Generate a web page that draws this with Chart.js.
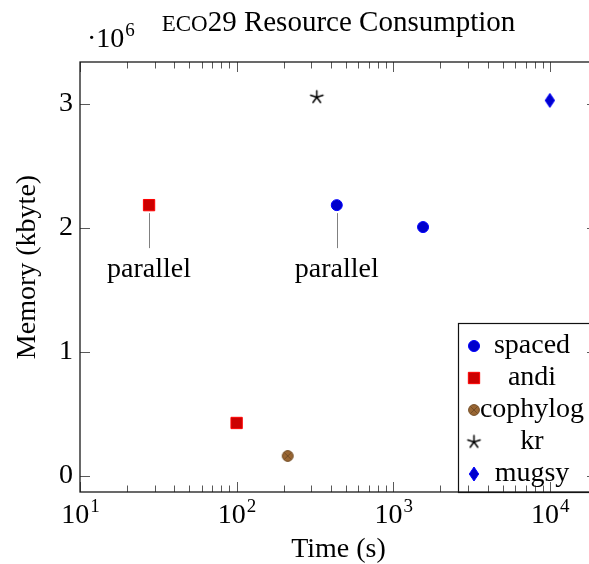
<!DOCTYPE html>
<html>
<head>
<meta charset="utf-8">
<script src="https://cdn.jsdelivr.net/npm/chart.js@4.4.0/dist/chart.umd.min.js"></script>
<style>
  html, body { margin: 0; padding: 0; background: #fff; overflow: hidden; }
</style>
</head>
<body>
<canvas id="eco29Chart" width="620" height="564"></canvas>
<script>
// eco29: wall time (s) against peak memory (kbyte) for each tool
const toolNames = ['spaced', 'andi', 'cophylog', 'kr', 'mugsy'];
const spacedPoints = [{ x: 436, y: 2185000 }, { x: 1550, y: 2008000 }];
const andiPoints = [{ x: 27.6, y: 2185000 }, { x: 100, y: 427000 }];
const cophylogPoints = [{ x: 212, y: 161000 }];
const krPoints = [{ x: 325, y: 3056000 }];
const mugsyPoints = [{ x: 10000, y: 3030000 }];

// runs that were done in parallel: [tool, point index]
const parallelRuns = [['andi', 0], ['spaced', 0]];

const xDecades = [10, 100, 1000, 10000];
const yTickValues = [0, 1000000, 2000000, 3000000];

const SERIF = '"Liberation Serif", "DejaVu Serif", serif';
const FONT_PX = 28;
const EXP_PX = 19;

// small canvases for the marks Chart.js has no style for
function markerCanvas(w, h, paint) {
    const c = document.createElement('canvas');
    c.width = w;
    c.height = h;
    const g = c.getContext('2d');
    g.translate(w / 2, h / 2);
    paint(g);
    return c;
}

const otimesMark = markerCanvas(16, 16, g => {
    g.beginPath();
    g.arc(0, 0, 5.4, 0, 2 * Math.PI);
    g.fillStyle = 'rgb(153,102,51)';
    g.fill();
    g.strokeStyle = 'rgb(115,77,38)';
    g.lineWidth = 1;
    g.stroke();
    const d = 5.4 * Math.SQRT1_2;
    g.beginPath();
    g.moveTo(-d, -d); g.lineTo(d, d);
    g.moveTo(d, -d); g.lineTo(-d, d);
    g.stroke();
});

const starMark = markerCanvas(17, 17, g => {
    g.strokeStyle = '#000';
    g.lineWidth = 1.5;
    g.lineCap = 'round';
    g.beginPath();
    for (let k = 0; k < 5; k++) {
        const a = -Math.PI / 2 + k * 2 * Math.PI / 5;
        g.moveTo(0, 0);
        g.lineTo(6.5 * Math.cos(a), 6.5 * Math.sin(a));
    }
    g.stroke();
});

const diamondMark = markerCanvas(14, 18, g => {
    g.beginPath();
    g.moveTo(0, -7); g.lineTo(4.7, 0); g.lineTo(0, 7); g.lineTo(-4.7, 0);
    g.closePath();
    g.fillStyle = 'rgb(0,0,204)';
    g.fill();
    g.strokeStyle = 'rgb(0,0,255)';
    g.lineWidth = 1;
    g.stroke();
});

function superscript(ctx, base, exp, x, baseline, align) {
    ctx.font = FONT_PX + 'px ' + SERIF;
    const wb = ctx.measureText(base).width;
    ctx.font = EXP_PX + 'px ' + SERIF;
    const we = ctx.measureText(exp).width;
    let left = x;
    if (align === 'center') left = x - (wb + we) / 2;
    ctx.textAlign = 'left';
    ctx.textBaseline = 'alphabetic';
    ctx.font = FONT_PX + 'px ' + SERIF;
    ctx.fillText(base, left, baseline);
    ctx.font = EXP_PX + 'px ' + SERIF;
    ctx.fillText(exp, left + wb + 1, baseline - 11);
}

const pgfAxis = {
    id: 'pgfAxis',
    afterDatasetsDraw(chart) {
        const ctx = chart.ctx;
        ctx.save();
        parallelRuns.forEach(([tool, idx]) => {
            const dsIndex = toolNames.indexOf(tool);
            const pt = chart.getDatasetMeta(dsIndex).data[idx];
            ctx.strokeStyle = '#808080';
            ctx.lineWidth = 1;
            ctx.beginPath();
            ctx.moveTo(Math.round(pt.x) + 0.5, pt.y + 8);
            ctx.lineTo(Math.round(pt.x) + 0.5, pt.y + 43);
            ctx.stroke();
            ctx.fillStyle = '#000';
            ctx.font = FONT_PX + 'px ' + SERIF;
            ctx.textAlign = 'center';
            ctx.textBaseline = 'alphabetic';
            ctx.fillText('parallel', pt.x, pt.y + 72);
        });
        ctx.restore();
    },
    afterDraw(chart) {
        const ctx = chart.ctx;
        const { left, right, top, bottom } = chart.chartArea;
        const xs = chart.scales.x;
        const ys = chart.scales.y;
        ctx.save();

        // legend box, anchored to the lower right corner
        const lgLeft = 458, lgTop = 323;
        ctx.fillStyle = '#fff';
        ctx.fillRect(lgLeft, lgTop, right - lgLeft, bottom - lgTop);
        ctx.strokeStyle = '#111';
        ctx.lineWidth = 1.2;
        ctx.strokeRect(lgLeft + 0.5, lgTop + 0.5, right - lgLeft, bottom - lgTop);
        chart.data.datasets.forEach((ds, i) => {
            const cy = 346 + i * 32;
            ctx.fillStyle = ds.backgroundColor;
            ctx.strokeStyle = ds.borderColor;
            ctx.lineWidth = ds.borderWidth;
            Chart.helpers.drawPoint(ctx, {
                pointStyle: ds.pointStyle,
                radius: ds.pointRadius,
                borderWidth: ds.borderWidth,
                rotation: 0
            }, 474, cy);
            ctx.fillStyle = '#000';
            ctx.font = FONT_PX + 'px ' + SERIF;
            ctx.textAlign = 'center';
            ctx.textBaseline = 'middle';
            ctx.fillText(ds.label, 532, cy);
        });

        // tick marks, pointing into the plot
        ctx.strokeStyle = 'rgba(0,0,0,0.65)';
        ctx.lineWidth = 1;
        xs.ticks.forEach(t => {
            const px = Math.round(xs.getPixelForValue(t.value)) + 0.5;
            const len = t.major ? 10 : 6.5;
            ctx.beginPath();
            ctx.moveTo(px, bottom); ctx.lineTo(px, bottom - len);
            ctx.moveTo(px, top); ctx.lineTo(px, top + len);
            ctx.stroke();
        });
        ys.ticks.forEach(t => {
            const py = Math.round(ys.getPixelForValue(t.value)) + 0.5;
            ctx.beginPath();
            ctx.moveTo(left, py); ctx.lineTo(left + 10, py);
            ctx.moveTo(right, py); ctx.lineTo(right - 10, py);
            ctx.stroke();
        });

        // axis frame
        ctx.strokeStyle = '#1a1a1a';
        ctx.lineWidth = 1.3;
        ctx.strokeRect(left, top, right - left, bottom - top);

        // decade labels under the x axis
        ctx.fillStyle = '#000';
        xDecades.forEach(v => {
            superscript(ctx, '10', String(Math.round(Math.log10(v))), xs.getPixelForValue(v), 523, 'center');
        });

        // y scale factor above the axis
        superscript(ctx, '\u00b710', '6', 87, 47, 'left');

        // y axis label
        ctx.save();
        ctx.translate(28, 267);
        ctx.rotate(-Math.PI / 2);
        ctx.font = FONT_PX + 'px ' + SERIF;
        ctx.textAlign = 'center';
        ctx.textBaseline = 'middle';
        ctx.fillText('Memory (kbyte)', 0, 0);
        ctx.restore();

        // title with the data set name in small caps
        const capsFont = '23px ' + SERIF;
        const mainFont = '29px ' + SERIF;
        ctx.font = capsFont;
        const wCaps = ctx.measureText('ECO').width;
        ctx.font = mainFont;
        const rest = '29 Resource Consumption';
        const wRest = ctx.measureText(rest).width;
        const tx = (left + right) / 2 - (wCaps + wRest) / 2;
        ctx.textAlign = 'left';
        ctx.textBaseline = 'alphabetic';
        ctx.font = capsFont;
        ctx.fillText('ECO', tx, 31);
        ctx.font = mainFont;
        ctx.fillText(rest, tx + wCaps, 31);

        ctx.restore();
    }
};

const datasets = [
    { label: toolNames[0], data: spacedPoints, pointStyle: 'circle', pointRadius: 5.5,
      backgroundColor: 'rgb(0,0,204)', borderColor: 'rgb(0,0,255)', borderWidth: 1 },
    { label: toolNames[1], data: andiPoints, pointStyle: 'rect', pointRadius: 8,
      backgroundColor: 'rgb(204,0,0)', borderColor: 'rgb(255,0,0)', borderWidth: 1 },
    { label: toolNames[2], data: cophylogPoints, pointStyle: otimesMark, pointRadius: 6,
      backgroundColor: 'rgb(153,102,51)', borderColor: 'rgb(115,77,38)', borderWidth: 1 },
    { label: toolNames[3], data: krPoints, pointStyle: starMark, pointRadius: 6,
      backgroundColor: '#000', borderColor: '#000', borderWidth: 1 },
    { label: toolNames[4], data: mugsyPoints, pointStyle: diamondMark, pointRadius: 6,
      backgroundColor: 'rgb(0,0,204)', borderColor: 'rgb(0,0,255)', borderWidth: 1 }
];

new Chart(document.getElementById('eco29Chart'), {
    type: 'scatter',
    data: { datasets: datasets },
    options: {
        responsive: false,
        animation: false,
        events: [],
        layout: { padding: { top: 62, right: 23, left: 0, bottom: 0 } },
        plugins: {
            legend: { display: false },
            title: { display: false },
            tooltip: { enabled: false }
        },
        scales: {
            x: {
                type: 'logarithmic',
                min: 10,
                max: 20000,
                afterBuildTicks: scale => {
                    const ticks = [];
                    xDecades.forEach(d => {
                        for (let m = 1; m <= 9; m++) {
                            if (d * m <= 20000) ticks.push({ value: d * m, major: m === 1 });
                        }
                    });
                    scale.ticks = ticks;
                },
                afterFit: scale => { scale.height = 72; },
                grid: { display: false, drawTicks: false },
                border: { display: false },
                ticks: { display: false },
                title: {
                    display: true,
                    text: 'Time (s)',
                    color: '#000',
                    font: { family: SERIF, size: FONT_PX, lineHeight: 1 },
                    padding: { top: 0, bottom: 0 }
                }
            },
            y: {
                min: -130000,
                max: 3340000,
                afterBuildTicks: scale => {
                    scale.ticks = yTickValues.map(v => ({ value: v }));
                },
                afterFit: scale => { scale.width = 80; },
                grid: { display: false, drawTicks: false },
                border: { display: false },
                ticks: {
                    color: '#000',
                    padding: 7,
                    font: { family: SERIF, size: FONT_PX },
                    callback: v => String(v / 1000000)
                }
            }
        }
    },
    plugins: [pgfAxis]
});
</script>
</body>
</html>
